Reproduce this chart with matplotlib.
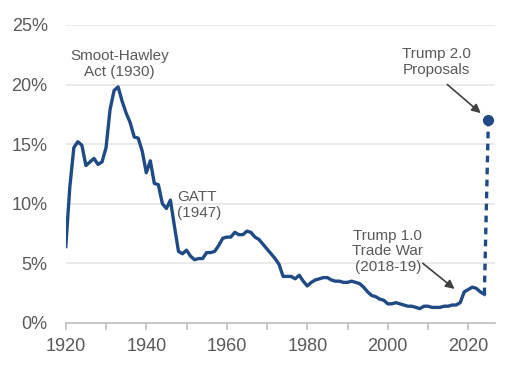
import numpy as np
import matplotlib
matplotlib.use("Agg")
import matplotlib.pyplot as plt
from matplotlib.ticker import MultipleLocator, FuncFormatter

plt.rcParams["font.family"] = ["Liberation Sans", "DejaVu Sans"]

# average tariff rate, %
years = list(range(1920, 2025))
tariff = [
    6.4, 11.4, 14.7, 15.2, 14.9, 13.2, 13.5, 13.8, 13.3, 13.5,
    14.7, 17.9, 19.5, 19.8, 18.6, 17.6, 16.8, 15.6, 15.5, 14.4,
    12.6, 13.6, 11.7, 11.6, 10.0, 9.6, 10.3, 8.1, 6.0, 5.8,
    6.1, 5.6, 5.3, 5.4, 5.4, 5.9, 5.9, 6.0, 6.5, 7.1,
    7.2, 7.2, 7.6, 7.4, 7.4, 7.7, 7.6, 7.2, 7.0, 6.6,
    6.2, 5.8, 5.4, 4.9, 3.9, 3.9, 3.9, 3.7, 4.0, 3.5,
    3.1, 3.4, 3.6, 3.7, 3.8, 3.8, 3.6, 3.5, 3.5, 3.4,
    3.4, 3.5, 3.4, 3.3, 3.0, 2.6, 2.3, 2.2, 2.0, 1.9,
    1.6, 1.6, 1.7, 1.6, 1.5, 1.4, 1.4, 1.3, 1.2, 1.4,
    1.4, 1.3, 1.3, 1.3, 1.4, 1.4, 1.5, 1.5, 1.7, 2.6,
    2.8, 3.0, 2.9, 2.6, 2.4,
]
proposal_year = 2025
proposal_rate = 17.0

blue = "#1f4a85"
grey = "#595959"

fig = plt.figure(figsize=(5.1, 3.72), dpi=100)
ax = fig.add_axes([0.129, 0.132, 0.842, 0.801])

ax.plot(years, tariff, color=blue, lw=2.4, solid_joinstyle="round")
ax.plot([years[-1], proposal_year], [tariff[-1], proposal_rate],
        color=blue, lw=2.4, ls=(0, (2, 1.6)))
ax.plot([proposal_year], [proposal_rate], "o", color=blue, ms=7)

ax.set_xlim(1920, 2026.7)
ax.set_ylim(0, 25)
ax.yaxis.set_major_locator(MultipleLocator(5))
ax.yaxis.set_major_formatter(FuncFormatter(lambda v, _: f"{v:.0f}%"))
ax.xaxis.set_major_locator(MultipleLocator(20))
ax.xaxis.set_minor_locator(MultipleLocator(10))

ax.grid(axis="y", color="#e6e6e6", lw=1.2)
ax.set_axisbelow(True)
for s in ["top", "right", "left"]:
    ax.spines[s].set_visible(False)
ax.spines["bottom"].set_color("#bfbfbf")
ax.spines["bottom"].set_linewidth(1.2)
ax.tick_params(axis="y", length=0, pad=13, labelsize=13, labelcolor=grey)
ax.tick_params(axis="x", which="both", length=5, width=1.2, color="#bfbfbf",
               pad=6, labelsize=13, labelcolor=grey)

txt = dict(fontsize=11, color=grey, linespacing=1.15)
arrow = dict(arrowstyle="-|>", color="#404040", lw=1.2,
             shrinkA=0, shrinkB=0, mutation_scale=13)
ax.text(1933.3, 21.7, "Smoot-Hawley\nAct (1930)", ha="center", va="center", **txt)
ax.text(1947.6, 9.9, "GATT\n(1947)", ha="left", va="center", **txt)
ax.text(2000, 6.0, "Trump 1.0\nTrade War\n(2018-19)", ha="center", va="center", **txt)
ax.annotate("", xy=(2016.6, 2.85), xytext=(2008.7, 5.0), arrowprops=arrow)
ax.text(2012.2, 21.9, "Trump 2.0\nProposals", ha="center", va="center", **txt)
ax.annotate("", xy=(2023.1, 17.6), xytext=(2014.8, 20.0), arrowprops=arrow)

fig.savefig("out.png", dpi=100)
